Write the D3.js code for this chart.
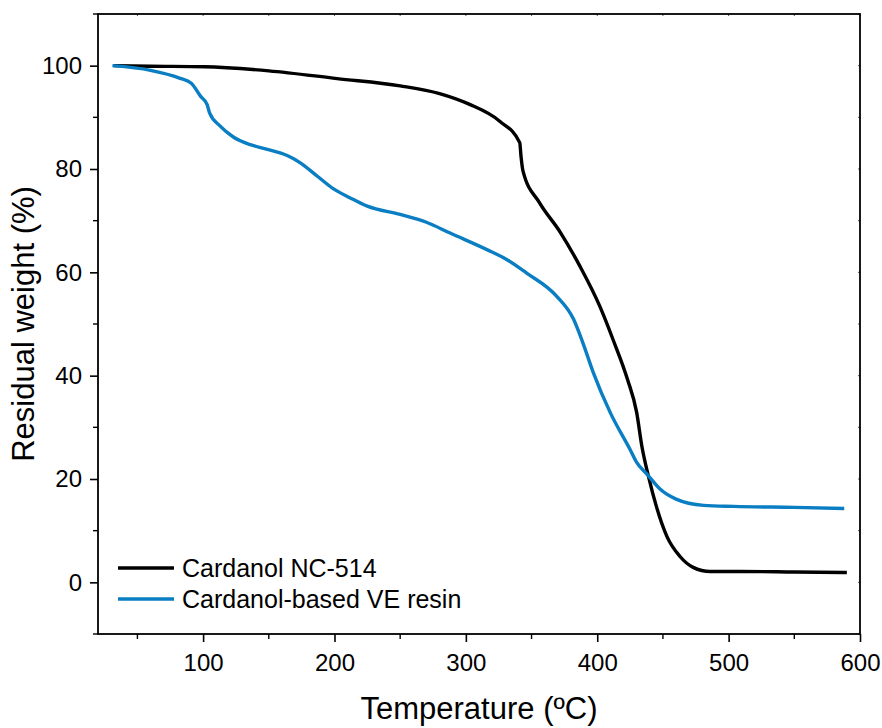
<!DOCTYPE html>
<html>
<head>
<meta charset="utf-8">
<script src="https://cdn.jsdelivr.net/npm/d3@7"></script>
<style>
    body { margin: 0; background: #fff; }
    svg text { font-family: "Liberation Sans", Arial, sans-serif; fill: #000; }
</style>
</head>
<body>
<svg id="canvas" width="882" height="728"></svg>
<script>
// Temperature (ºC) and residual weight (%)
const ncTemp   = [32, 60, 101, 150, 202, 250, 280, 302, 326, 341, 342, 343.5, 356, 372, 387, 402, 412, 423, 430, 434, 439, 445, 453, 463, 473, 486, 509, 550, 590];
const ncWeight = [100, 99.9, 99.8, 99, 97.5, 96.1, 94.6, 92.6, 89.2, 85.1, 82.4, 79.6, 73.5, 67.7, 61.1, 53.4, 47, 39.3, 32.9, 26.3, 20.5, 14.7, 8.9, 5.0, 2.9, 2.1, 2.1, 2.0, 1.9];

const veTemp   = [31, 60, 82, 91, 98, 103, 105, 113, 123, 136, 146, 164, 174, 187, 199, 212, 225, 250, 270, 288, 316, 331, 346, 369, 382, 389, 397, 410, 425, 430, 438, 448, 460, 481, 504, 550, 588];
const veWeight = [100, 99.1, 97.6, 96.6, 94.1, 92.5, 90.8, 88.3, 86.2, 84.7, 84.0, 82.6, 81.2, 78.6, 76.2, 74.4, 72.8, 71.2, 69.7, 67.6, 64.4, 62.5, 59.9, 55.4, 50.9, 46.4, 40.6, 32.8, 25.7, 23.2, 20.9, 18, 16.1, 14.9, 14.7, 14.5, 14.3];

const seriesNames = ["Cardanol NC-514", "Cardanol-based VE resin"];
const seriesColors = ["#000000", "#0a7ec2"];

const xTicks = [100, 200, 300, 400, 500, 600];
const yTicks = [0, 20, 40, 60, 80, 100];

const svg = d3.select("#canvas");
const margin = { left: 98, right: 22, top: 14, bottom: 94 };
const W = 882, H = 728;

const x = d3.scaleLinear().domain([20, 600]).range([margin.left, W - margin.right]);
const y = d3.scaleLinear().domain([-10, 110]).range([H - margin.bottom, margin.top]);

const x0 = margin.left, x1 = W - margin.right, y0 = H - margin.bottom, y1 = margin.top;

// Minor tick values
const xMinor = d3.range(50, 600, 100);
const yMinor = d3.range(-10, 111, 20);

// Bottom axis
const bottom = svg.append("g").attr("transform", `translate(0,${y0})`);
bottom.call(d3.axisBottom(x).tickValues(xTicks).tickSize(8).tickSizeOuter(0).tickPadding(12))
    .call(g => g.select(".domain").remove())
    .call(g => g.selectAll("line").attr("stroke-width", 1.6))
    .call(g => g.selectAll("text").attr("font-size", 24));
bottom.selectAll("line.minor").data(xMinor).enter().append("line")
    .attr("x1", d => x(d)).attr("x2", d => x(d)).attr("y1", 0).attr("y2", 5)
    .attr("stroke", "#000").attr("stroke-width", 1.4);

// Left axis
const left = svg.append("g").attr("transform", `translate(${x0},0)`);
left.call(d3.axisLeft(y).tickValues(yTicks).tickSize(8).tickSizeOuter(0).tickPadding(8))
    .call(g => g.select(".domain").remove())
    .call(g => g.selectAll("line").attr("stroke-width", 1.6))
    .call(g => g.selectAll("text").attr("font-size", 24));
left.selectAll("line.minor").data(yMinor).enter().append("line")
    .attr("x1", 0).attr("x2", -5).attr("y1", d => y(d)).attr("y2", d => y(d))
    .attr("stroke", "#000").attr("stroke-width", 1.4);

// Top and right: small inward ticks, no labels
const topG = svg.append("g");
topG.selectAll("line").data(xTicks.concat(xMinor)).enter().append("line")
    .attr("x1", d => x(d)).attr("x2", d => x(d)).attr("y1", y1).attr("y2", y1 + 2)
    .attr("stroke", "#555").attr("stroke-width", 1);
const rightG = svg.append("g");
rightG.selectAll("line").data(yTicks.concat(yMinor)).enter().append("line")
    .attr("x1", x1).attr("x2", x1 - 2).attr("y1", d => y(d)).attr("y2", d => y(d))
    .attr("stroke", "#555").attr("stroke-width", 1);

// Frame
svg.append("rect")
    .attr("x", x0).attr("y", y1)
    .attr("width", x1 - x0).attr("height", y0 - y1)
    .attr("fill", "none").attr("stroke", "#000").attr("stroke-width", 1.8);

// Curves
const line = d3.line()
    .x(d => x(d[0]))
    .y(d => y(d[1]))
    .curve(d3.curveMonotoneX);

const series = [
    d3.zip(ncTemp, ncWeight),
    d3.zip(veTemp, veWeight)
];

svg.selectAll("path.curve")
    .data(series)
    .enter()
    .append("path")
    .attr("class", "curve")
    .attr("d", line)
    .attr("fill", "none")
    .attr("stroke", (d, i) => seriesColors[i])
    .attr("stroke-width", 3.4)
    .attr("stroke-linejoin", "round");

// Legend
const legend = svg.append("g").attr("transform", `translate(118,568)`);
const item = legend.selectAll("g")
    .data(seriesNames)
    .enter()
    .append("g")
    .attr("transform", (d, i) => `translate(0,${i * 31})`);
item.append("line")
    .attr("x1", 0).attr("x2", 56).attr("y1", 0).attr("y2", 0)
    .attr("stroke", (d, i) => seriesColors[i])
    .attr("stroke-width", 3.4);
item.append("text")
    .attr("x", 64).attr("dy", "0.35em")
    .attr("font-size", 25)
    .text(d => d);

// Axis titles
svg.append("text")
    .attr("x", (x0 + x1) / 2).attr("y", 719)
    .attr("text-anchor", "middle")
    .attr("font-size", 31)
    .text("Temperature (ºC)");

svg.append("text")
    .attr("transform", `translate(34,${(y0 + y1) / 2}) rotate(-90)`)
    .attr("text-anchor", "middle")
    .attr("font-size", 31)
    .text("Residual weight (%)");
</script>
</body>
</html>
